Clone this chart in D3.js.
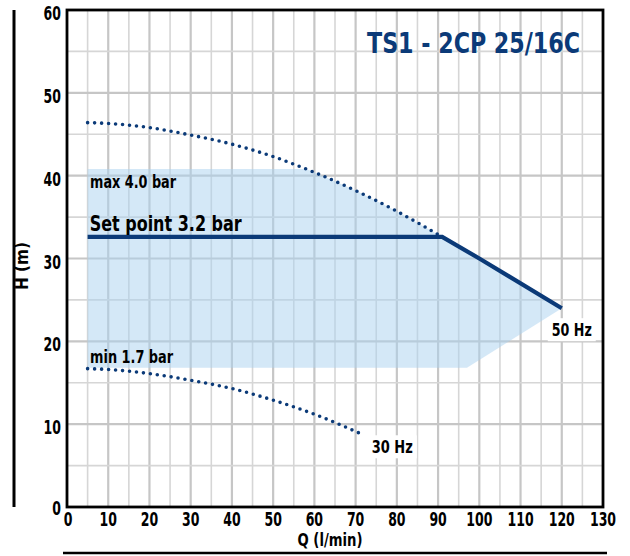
<!DOCTYPE html>
<html>
<head>
<meta charset="utf-8">
<script src="https://cdn.jsdelivr.net/npm/d3@7"></script>
<style>
  html, body { margin: 0; padding: 0; background: #fff; }
  svg { display: block; }
  text { font-family: 'Liberation Sans Narrow', 'DejaVu Sans Condensed', 'Liberation Sans', Arial, sans-serif; font-weight: bold; }
</style>
</head>
<body>
<svg id="chart" width="630" height="556"></svg>
<script>
// ---- data ----
const title = "TS1 - 2CP 25/16C";
const xTicks = [0,10,20,30,40,50,60,70,80,90,100,110,120,130];
const yTicks = [0,10,20,30,40,50,60];
// 50 Hz max curve (dotted)
const maxQ = [5,10,20,30,40,50,60,70,80,91];
const maxH = [46.4,46.3,45.8,44.9,43.8,42.3,40.4,38.2,35.7,32.6];
// 30 Hz min curve (dotted)
const minQ = [5,10,20,30,40,50,60,71];
const minH = [16.7,16.6,16.1,15.3,14.3,12.9,11.2,8.9];
// set point line (solid)
const setQ = [5,91,100,120];
const setH = [32.6,32.6,30.0,24.0];
// shaded working area
const areaQ = [5,58,60,70,80,91,100,120,97,5];
const areaH = [40.8,40.8,40.4,38.2,35.7,32.6,30.0,24.0,16.8,16.8];

const navy = "#0b3a78";

const svg = d3.select("#chart");
const L = 67, R = 603, T = 10, B = 507;
const x = d3.scaleLinear().domain([0,130]).range([L,R]);
const y = d3.scaleLinear().domain([0,60]).range([B,T]);

// outer decoration lines
svg.append("line").attr("x1",14).attr("x2",14).attr("y1",10).attr("y2",507)
  .attr("stroke","#000").attr("stroke-width",3);
svg.append("line").attr("x1",63).attr("x2",607).attr("y1",553).attr("y2",553)
  .attr("stroke","#000").attr("stroke-width",2.5);

// grid
const gridV = d3.range(5,130,5);
const gridH = d3.range(5,60,5);
const g = svg.append("g");
g.selectAll(".gv").data(gridV).enter().append("line")
  .attr("x1",d=>x(d)).attr("x2",d=>x(d)).attr("y1",T).attr("y2",B)
  .attr("stroke",d=>d%10===0?"#c6c6c6":"#d6d6d6")
  .attr("stroke-width",d=>d%10===0?2.2:1.6);
g.selectAll(".gh").data(gridH).enter().append("line")
  .attr("y1",d=>y(d)).attr("y2",d=>y(d)).attr("x1",L).attr("x2",R)
  .attr("stroke",d=>d%10===0?"#c6c6c6":"#d6d6d6")
  .attr("stroke-width",d=>d%10===0?2.2:1.6);

// shaded area
const areaPts = areaQ.map((q,i)=>[x(q),y(areaH[i])]);
svg.append("path").attr("d", d3.line()(areaPts)+"Z")
  .attr("fill","#a9d2f0").attr("fill-opacity",0.5);

// curves
const line = d3.line().curve(d3.curveMonotoneX);
svg.append("path").attr("d", line(maxQ.map((q,i)=>[x(q),y(maxH[i])])))
  .attr("fill","none").attr("stroke",navy).attr("stroke-width",3.6)
  .attr("stroke-linecap","round").attr("stroke-dasharray","0,7");
svg.append("path").attr("d", line(minQ.map((q,i)=>[x(q),y(minH[i])])))
  .attr("fill","none").attr("stroke",navy).attr("stroke-width",3.6)
  .attr("stroke-linecap","round").attr("stroke-dasharray","0,7");
svg.append("path").attr("d", d3.line()(setQ.map((q,i)=>[x(q),y(setH[i])])))
  .attr("fill","none").attr("stroke",navy).attr("stroke-width",4.2)
  .attr("stroke-linejoin","miter");

// border
svg.append("rect").attr("x",L).attr("y",T).attr("width",R-L).attr("height",B-T)
  .attr("fill","none").attr("stroke","#000").attr("stroke-width",2.8);

// axes ticks labels
const digitW = 8.7;
svg.selectAll(".xt").data(xTicks).enter().append("text")
  .attr("x",d=>x(d)+(d===0?1:0)).attr("y",B+19)
  .attr("text-anchor","middle").attr("font-size",20).attr("fill","#000")
  .attr("textLength",d=>String(d).length*digitW).attr("lengthAdjust","spacingAndGlyphs")
  .text(d=>d);
svg.selectAll(".yt").data(yTicks).enter().append("text")
  .attr("x",L-6).attr("y",d=>y(d)+(d===0?8:10))
  .attr("text-anchor","end").attr("font-size",20).attr("fill","#000")
  .attr("textLength",d=>String(d).length*digitW).attr("lengthAdjust","spacingAndGlyphs")
  .text(d=>d);

// axis titles
svg.append("text").attr("x",(L+R)/2-5).attr("y",546).attr("text-anchor","middle")
  .attr("font-size",18).attr("textLength",65).attr("lengthAdjust","spacingAndGlyphs")
  .text("Q (l/min)");
svg.append("text").attr("transform","translate(28,266) rotate(-90)")
  .attr("text-anchor","middle").attr("font-size",17).text("H (m)");

// title
svg.append("text").attr("x",367).attr("y",53).attr("font-size",29)
  .attr("fill",navy).attr("textLength",213).attr("lengthAdjust","spacingAndGlyphs")
  .attr("font-family","'Liberation Sans', Arial, sans-serif")
  .text(title);

// labels
function label(txt, q, h, dy, size, len) {
  svg.append("text").attr("x",x(q)).attr("y",y(h)+dy).attr("font-size",size)
    .attr("fill","#000").attr("textLength",len).attr("lengthAdjust","spacingAndGlyphs")
    .text(txt);
}
label("max 4.0 bar", 5.6, 40.8, 19, 18, 86);
label("min 1.7 bar", 5.6, 16.8, -5, 18, 83);
label("Set point 3.2 bar", 5.5, 32.6, -6, 21, 152);

function hzLabel(txt, q, h, dx, dy, len) {
  const px = x(q)+dx, py = y(h)+dy;
  svg.append("rect").attr("x",px-4).attr("y",py-18).attr("width",len+8).attr("height",23)
    .attr("fill","#fff");
  svg.append("text").attr("x",px).attr("y",py).attr("font-size",18)
    .attr("fill","#000").attr("textLength",len).attr("lengthAdjust","spacingAndGlyphs")
    .text(txt);
}
hzLabel("50 Hz", 120, 24.0, -10, 28, 40);
hzLabel("30 Hz", 71, 8.9, 12, 20, 41);
</script>
</body>
</html>
